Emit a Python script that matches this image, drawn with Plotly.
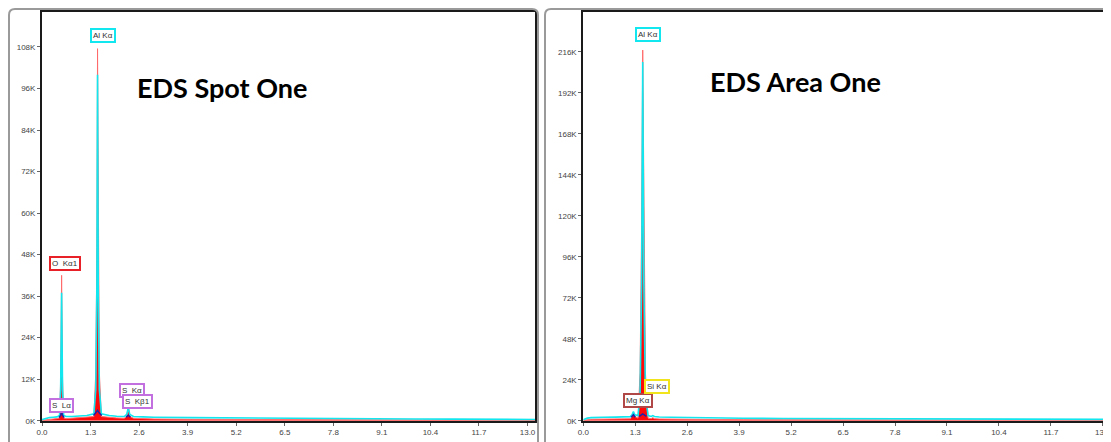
import plotly.graph_objects as go

# ---------------- data ----------------
# EDS Spot One
energy_spot = [0.00, 0.10, 0.20, 0.30, 0.40, 0.47, 0.50, 0.525, 0.55, 0.58, 0.65, 0.80,
               1.00, 1.20, 1.39, 1.44, 1.47, 1.487, 1.505, 1.535, 1.59, 1.80, 2.00, 2.20,
               2.27, 2.31, 2.35, 2.45, 2.70, 3.00, 4.00, 5.00, 6.00, 7.00, 8.00, 9.00,
               10.0, 11.0, 12.0, 13.2]
cyan_spot = [300, 700, 900, 1000, 1100, 1500, 9000, 37000, 9000, 1500, 1200, 1200,
             1300, 1500, 2000, 9000, 40000, 100000, 40000, 9000, 2000, 1500, 1300, 1200,
             1800, 3800, 1800, 1200, 1100, 1000, 900, 800, 700, 650, 600, 550,
             500, 450, 400, 350]
red_spot = [100, 300, 400, 500, 600, 800, 12000, 42000, 12000, 800, 600, 700,
            800, 1000, 1200, 14000, 50000, 107500, 50000, 14000, 1200, 900, 800, 700,
            1200, 4300, 1200, 700, 600, 500, 400, 350, 300, 250, 200, 180,
            160, 140, 120, 100]
# dark-blue residue at the peak bases
base_energy_spot = [0.46, 0.50, 0.525, 0.55, 0.59, None, 1.38, 1.44, 1.487, 1.535, 1.60,
                    None, 2.25, 2.31, 2.37]
base_counts_spot = [900, 1600, 2600, 1600, 900, None, 1500, 2200, 3000, 2200, 1500,
                    None, 1000, 1600, 1000]

# EDS Area One
energy_area = [0.00, 0.10, 0.20, 0.30, 0.50, 0.80, 1.00, 1.18, 1.22, 1.254, 1.29, 1.37,
               1.42, 1.46, 1.487, 1.515, 1.555, 1.62, 1.70, 1.74, 1.78, 1.90, 2.20, 2.60,
               3.00, 4.00, 5.00, 6.00, 7.00, 8.00, 9.00, 10.0, 11.0, 12.0, 13.2]
cyan_area = [500, 1500, 1800, 2000, 2000, 2100, 2200, 2400, 3500, 5300, 3500, 3000,
             15000, 80000, 210000, 80000, 15000, 3000, 2500, 3000, 2500, 2200, 2000, 1800,
             1600, 1400, 1300, 1200, 1100, 1000, 950, 900, 850, 800, 750]
red_area = [200, 600, 800, 900, 900, 1000, 1000, 1100, 2500, 4500, 2500, 1500,
            28000, 115000, 217000, 115000, 28000, 1500, 1200, 1800, 1200, 1000, 900, 800,
            700, 600, 550, 500, 450, 400, 350, 300, 280, 260, 240]
base_energy_area = [1.20, 1.254, 1.30, None, 1.40, 1.487, 1.58]
base_counts_area = [2000, 3500, 2000, None, 2500, 4000, 2500]

x_ticks = [0.0, 1.3, 2.6, 3.9, 5.2, 6.5, 7.8, 9.1, 10.4, 11.7, 13.0]
y_ticks_spot = [0, 12000, 24000, 36000, 48000, 60000, 72000, 84000, 96000, 108000]
y_ticks_area = [0, 24000, 48000, 72000, 96000, 120000, 144000, 168000, 192000, 216000]

W, H = 1111, 442
OFF = 8  # the page's body margin shifts the figure by 8 px
CYAN = "#12e6ee"
RED = "#ff0a0a"
NAVY = "#2020a8"

fig = go.Figure()

def add_spectrum(xa, ya, e, red, cyan, be, bc):
    fig.add_trace(go.Scatter(x=e, y=red, mode="lines", fill="tozeroy",
                             fillcolor=RED, line=dict(color="#ff6a6a", width=1),
                             xaxis=xa, yaxis=ya, hoverinfo="skip", showlegend=False))
    fig.add_trace(go.Scatter(x=e, y=cyan, mode="lines",
                             line=dict(color=CYAN, width=1.6),
                             xaxis=xa, yaxis=ya, hoverinfo="skip", showlegend=False))
    fig.add_trace(go.Scatter(x=be, y=bc, mode="lines", connectgaps=False,
                             line=dict(color=NAVY, width=1.5),
                             xaxis=xa, yaxis=ya, hoverinfo="skip", showlegend=False))

add_spectrum("x", "y", energy_spot, red_spot, cyan_spot, base_energy_spot, base_counts_spot)
add_spectrum("x2", "y2", energy_area, red_area, cyan_area, base_energy_area, base_counts_area)

def px_x(p):
    return (p - OFF) / W

def px_y(p):
    return 1 - (p - OFF) / H

tickfont = dict(family="Liberation Sans", size=8, color="#444")
axis_common = dict(showline=True, linewidth=2, linecolor="#1a1a1a", mirror=True,
                   ticks="outside", ticklen=3, tickcolor="#666", tickwidth=1,
                   showgrid=False, zeroline=False, tickfont=tickfont, fixedrange=True,
                   automargin=False)

fig.update_layout(
    width=W, height=H,
    margin=dict(l=0, r=0, t=0, b=0, pad=0),
    paper_bgcolor="white", plot_bgcolor="white",
    xaxis=dict(domain=[px_x(42), px_x(535)], range=[0, 13.2], anchor="y",
               tickvals=x_ticks, ticktext=[f"{v:.1f}" for v in x_ticks], **axis_common),
    yaxis=dict(domain=[px_y(420.7), px_y(12)], range=[0, 118100], anchor="x",
               tickvals=y_ticks_spot, ticktext=[f"{v//1000}K" for v in y_ticks_spot],
               **axis_common),
    xaxis2=dict(domain=[px_x(583.3), px_x(1110)], range=[0, 13.18], anchor="y2",
                tickvals=x_ticks, ticktext=[f"{v:.1f}" for v in x_ticks], **axis_common),
    yaxis2=dict(domain=[px_y(420.7), px_y(12)], range=[0, 239300], anchor="x2",
                tickvals=y_ticks_area, ticktext=[f"{v//1000}K" for v in y_ticks_area],
                **axis_common),
)

# outer panel frames
def frame(x0, x1, y0, r=6):
    X0, X1 = px_x(x0), px_x(x1)
    Y0 = px_y(y0)
    Yb = px_y(470)
    rx, ry = r / W, r / H
    return (f"M {X0},{Yb} L {X0},{Y0 - ry} Q {X0},{Y0} {X0 + rx},{Y0} "
            f"L {X1 - rx},{Y0} Q {X1},{Y0} {X1},{Y0 - ry} L {X1},{Yb}")

fig.add_shape(type="path", path=frame(9, 538, 9), xref="paper", yref="paper",
              line=dict(color="#9a9a9a", width=2))
fig.add_shape(type="path", path=frame(545, 1125, 9), xref="paper", yref="paper",
              line=dict(color="#9a9a9a", width=2))

# titles
title_font = dict(family="Lato", size=27, color="black")
fig.add_annotation(text="<b>EDS Spot One</b>", x=px_x(222), y=px_y(87), xref="paper",
                   yref="paper", showarrow=False, font=title_font,
                   xanchor="center", yanchor="middle")
fig.add_annotation(text="<b>EDS Area One</b>", x=px_x(795), y=px_y(82), xref="paper",
                   yref="paper", showarrow=False, font=title_font,
                   xanchor="center", yanchor="middle")

# peak labels
lab_font = dict(family="Liberation Sans", size=8, color="#333")

def label(text, x, y, xr, yr, color):
    fig.add_annotation(text=text, x=x, y=y, xref=xr, yref=yr, showarrow=False,
                       font=lab_font, bordercolor=color, borderwidth=2, borderpad=1,
                       bgcolor="white", xanchor="center", yanchor="middle")

label("Al Kα", 1.62, 111300, "x", "y", CYAN)
label("O  Kα1", 0.62, 45400, "x", "y", "#e82028")
label("S  Lα", 0.51, 4500, "x", "y", "#c26fe0")
label("S  Kα", 2.41, 8700, "x", "y", "#c26fe0")
label("S  Kβ1", 2.57, 5500, "x", "y", "#c26fe0")

label("Al Kα", 1.62, 225900, "x2", "y2", CYAN)
label("Mg Kα", 1.37, 12000, "x2", "y2", "#b04848")
label("Si Kα", 1.84, 20000, "x2", "y2", "#f2e41c")

fig.write_html("out.html")
